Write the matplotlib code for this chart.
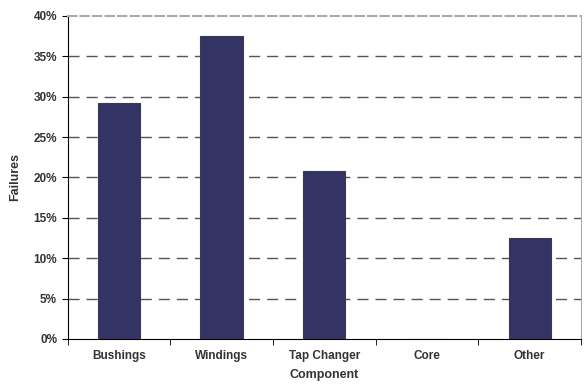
import numpy as np
import matplotlib.pyplot as plt
from matplotlib.ticker import FuncFormatter, FixedLocator

# -- Data
components = ["Bushings", "Windings", "Tap Changer", "Core", "Other"]
failures = [29.2, 37.5, 20.8, 0.0, 12.5]  # percent
y_ticks = [0, 5, 10, 15, 20, 25, 30, 35, 40]

plt.rcParams['font.family'] = ['Liberation Sans', 'DejaVu Sans']
plt.rcParams['font.weight'] = 'bold'

fig = plt.figure(figsize=(5.85, 3.85), dpi=100)
ax = fig.add_axes([0.1154, 0.1195, 0.8776, 0.8390])

x = np.arange(len(components))
ax.bar(x, failures, width=0.41, color="#333366", edgecolor="#3a3a4a", linewidth=0.8, zorder=3)

ax.set_xlim(-0.5, len(components) - 0.5)
ax.set_ylim(0, 40)

# -- Grid
ax.set_yticks(y_ticks)
ax.yaxis.set_major_formatter(FuncFormatter(lambda v, p: f"{v:.0f}%"))
for v in y_ticks[1:-1]:
    ax.axhline(v, color="#555555", linestyle=(0, (8, 5)), linewidth=1.0, zorder=1)

# -- Spines
ax.spines['top'].set_color("#aaaaaa")
ax.spines['top'].set_linestyle((0, (4, 2)))
ax.spines['top'].set_linewidth(1.5)
ax.spines['right'].set_color("#aaaaaa")
ax.spines['left'].set_color("black")
ax.spines['bottom'].set_color("black")

# -- Ticks
ax.set_xticks(x)
ax.set_xticklabels(components)
ax.xaxis.set_minor_locator(FixedLocator(np.arange(-0.5, len(components), 1.0)))
ax.tick_params(axis='x', which='major', length=0, pad=8, labelsize=8.5, colors="#333333")
ax.tick_params(axis='x', which='minor', length=4, direction='out', color="black")
ax.tick_params(axis='y', length=4, direction='out', labelsize=8.5, colors="#333333")
ax.tick_params(axis='y', color="black")

ax.set_xlabel("Component", fontsize=9, fontweight='bold', color="#333333", labelpad=5)
ax.set_ylabel("Failures", fontsize=9, fontweight='bold', color="#333333", labelpad=9)

fig.savefig("out.png", dpi=100)
